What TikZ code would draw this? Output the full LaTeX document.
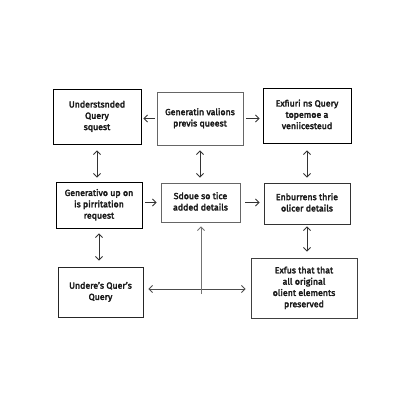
\documentclass[tikz,border=0pt]{standalone}
\usepackage{fontspec}
\setmainfont{Fira Sans}
\newcommand{\heavytext}{\special{pdf:literal direct 2 Tr 0.28 w}}
\newcommand{\stk}[1]{\heavytext\begin{tabular}{@{}c@{}}#1\end{tabular}}
\usetikzlibrary{arrows.meta}
\begin{document}
\begin{tikzpicture}[x=1pt,y=-1pt,
  box/.style={draw=#1,line width=0.9pt,align=center,inner sep=0pt,font=\fontsize{8.8}{11.3}\selectfont,text=black!90},
  box/.default=black,
  conn/.style={draw=black!80,line width=0.8pt,-{Straight Barb[length=3.5pt,width=7pt]}},
  dconn/.style={draw=black!80,line width=0.8pt,{Straight Barb[length=3.5pt,width=7pt]}-{Straight Barb[length=3.5pt,width=7pt]}}]
\useasboundingbox (0,0) rectangle (400,400);
\node[box, minimum width=88pt, minimum height=55pt] (b1) at (97,116.5) {\stk{Understsnded\\Query\\squest}};
\node[box=black!60, minimum width=86pt, minimum height=53pt] (b2) at (200,118.5) {\stk{Generatin valions\\previs queest}};
\node[box, minimum width=88pt, minimum height=55pt] (b3) at (307,115.5) {\stk{Exfiuri ns Query\\topemoe a\\veniicesteud}};
\node[box, minimum width=86pt, minimum height=46pt] (b4) at (99,205) {\stk{Generativo up on\\is pirritation\\request}};
\node[box=black!60, minimum width=79pt, minimum height=39pt] (b5) at (200.5,202.5) {\stk{Sdoue so tice\\added details}};
\node[box=black!80, minimum width=86pt, minimum height=41pt] (b6) at (307,203.5) {\stk{Enburrens thrie\\olicer details}};
\node[box=black!85, minimum width=85pt, minimum height=50pt] (b7) at (100.5,292) {\raisebox{3pt}{\stk{Undere's Quer's\\Query}}};
\node[box=black!75, minimum width=106pt, minimum height=60pt] (b8) at (304,288) {\stk{Exfus that that\\all original\\olient elements\\preserved}};
\coordinate (hub) at (201,289);
% row 1
\draw[conn, shorten <=2pt, shorten >=2pt] (b2.west) -- (b1.east |- b2.west);
\draw[conn, shorten <=3pt, shorten >=3pt] (b2.east) -- (b3.west |- b2.east);
% row 2
\draw[conn, shorten <=3pt, shorten >=4pt] (b4.east |- b5.west) -- (b5.west);
\draw[conn, shorten <=5pt, shorten >=4pt] (b5.east) -- (b6.west |- b5.east);
% verticals
\draw[dconn, shorten <=6pt, shorten >=4pt] (b1.south) -- (b1.south |- b4.north);
\draw[dconn, shorten <=5pt, shorten >=5pt] (b2.south) -- (b2.south |- b5.north);
\draw[dconn, shorten <=7pt, shorten >=5pt] (b3.south) -- (b3.south |- b6.north);
\draw[dconn, shorten <=5pt, shorten >=6pt] (b4.south) -- (b4.south |- b7.north);
\draw[dconn, shorten <=2pt, shorten >=6pt] (b6.south) -- (b6.south |- b8.north);
% hub
\draw[dconn, draw=black!70, shorten <=5pt, shorten >=5pt] (b7.east |- hub) -- (b8.west |- hub);
\draw[conn, draw=black!55, shorten >=4pt] ([yshift=-5pt]hub) -- (hub |- b5.south);
\end{tikzpicture}
\end{document}
